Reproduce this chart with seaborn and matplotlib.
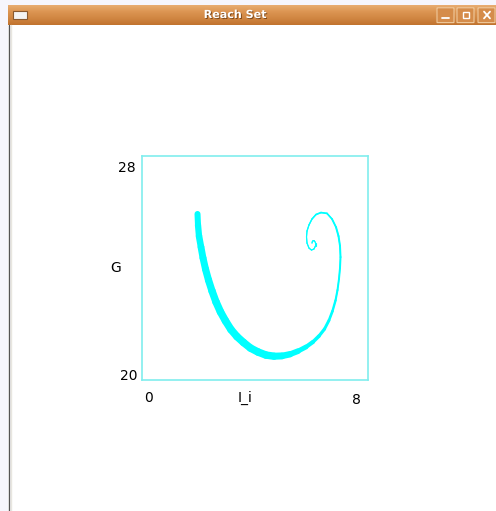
import numpy as np
import matplotlib
matplotlib.use("Agg")
import matplotlib.pyplot as plt
import matplotlib.patheffects as pe
from matplotlib.collections import LineCollection
from matplotlib.patches import Rectangle, FancyBboxPatch
from matplotlib.lines import Line2D
import pandas as pd
import seaborn as sns

# Reach set trajectory (centre line) in the (I_i, G) plane
li = [1.965, 1.982, 2.018, 2.088, 2.159, 2.248, 2.354, 2.478, 2.619, 2.779,
      2.956, 3.150, 3.363, 3.593, 3.841, 4.106, 4.389, 4.673, 4.956, 5.239,
      5.522, 5.805, 6.053, 6.265, 6.460, 6.619, 6.743, 6.850, 6.920, 6.973,
      7.009, 7.027, 7.009, 6.956, 6.867, 6.726, 6.549, 6.336, 6.159, 6.018,
      5.912, 5.841, 5.823, 5.841, 5.912, 6.000, 6.088, 6.142, 6.142, 6.088,
      6.035, 6.018]
g = [25.93, 25.54, 25.14, 24.75, 24.36, 23.96, 23.57, 23.18, 22.79, 22.43,
     22.11, 21.80, 21.55, 21.34, 21.14, 21.00, 20.89, 20.85, 20.86, 20.92,
     21.03, 21.18, 21.36, 21.57, 21.82, 22.13, 22.46, 22.84, 23.21, 23.61,
     24.00, 24.39, 24.79, 25.14, 25.46, 25.75, 25.95, 25.98, 25.91, 25.75,
     25.54, 25.32, 25.11, 24.89, 24.71, 24.64, 24.68, 24.79, 24.91, 24.98,
     24.96, 24.89]
# Thickness of the reach set along the trajectory (G units)
spread = [0.21, 0.22, 0.23, 0.24, 0.25, 0.25, 0.26, 0.26, 0.27, 0.27,
          0.27, 0.27, 0.27, 0.27, 0.27, 0.27, 0.27, 0.26, 0.24, 0.22,
          0.19, 0.16, 0.14, 0.12, 0.11, 0.10, 0.09, 0.08, 0.07, 0.07,
          0.07, 0.07, 0.07, 0.07, 0.07, 0.06, 0.06, 0.06, 0.06, 0.05,
          0.05, 0.04, 0.04, 0.04, 0.04, 0.04, 0.04, 0.04, 0.04, 0.04,
          0.04, 0.04]
x_range = [0, 8]
y_range = [20, 28]
x_labels = ["0", "8"]
y_labels = ["20", "28"]

sns.set_theme(style="white")
plt.rcParams["font.family"] = ["DejaVu Sans"]

W, H = 496, 511
fig = plt.figure(figsize=(W / 100, H / 100), dpi=100)
fig.patch.set_facecolor("white")

# ---- window frame ----
fig.add_artist(Rectangle((0, 0), 8 / W, 1, transform=fig.transFigure,
                         facecolor="#f6f6fd", edgecolor="none", zorder=0))
fig.add_artist(Rectangle((0, 1 - 5 / H), 1, 5 / H, transform=fig.transFigure,
                         facecolor="#f6f6fd", edgecolor="none", zorder=0))
fig.add_artist(Line2D([8.5 / W, 8.5 / W], [0, 1 - 25 / H], transform=fig.transFigure,
                      color="#555555", lw=1.0))
fig.add_artist(Line2D([10.5 / W, 10.5 / W], [0, 1 - 25 / H], transform=fig.transFigure,
                      color="#e8e6e0", lw=1.0))

tb = fig.add_axes([8 / W, 1 - 25 / H, (W - 8) / W, 20 / H])
grad = np.linspace(0, 1, 64).reshape(-1, 1)
cmap = matplotlib.colors.LinearSegmentedColormap.from_list(
    "bar", ["#e8ad72", "#dc9552", "#d08642", "#c1732e"])
tb.imshow(grad, aspect="auto", cmap=cmap, extent=[0, 1, 0, 1], origin="upper")
tb.set_xlim(0, 1)
tb.set_ylim(0, 1)
tb.axis("off")
tb.text((235 - 8) / 488, 0.5, "Reach Set", ha="center", va="center", color="white",
        fontsize=8, fontweight="bold",
        path_effects=[pe.withSimplePatchShadow(offset=(0.7, -0.7),
                                               shadow_rgbFace="#6a3a10", alpha=0.8)])
tb.add_patch(Rectangle((5 / 488, 0.3), 14 / 488, 0.42, facecolor="#f4f4f4",
                       edgecolor="#8a5a30", lw=0.8))
for bx in (429, 449, 470):
    tb.add_patch(FancyBboxPatch((bx / 488, 0.12), 17 / 488, 0.74,
                                boxstyle="round,pad=0,rounding_size=0.004",
                                facecolor="#d58c4a", edgecolor="#efc99c", lw=0.8))
tb.plot([434 / 488, 441 / 488], [0.33, 0.33], color="white", lw=1.3)
tb.add_patch(Rectangle((455 / 488, 0.33), 6 / 488, 0.34, facecolor="none",
                       edgecolor="white", lw=1.0))
tb.plot([476 / 488, 482 / 488], [0.33, 0.67], color="white", lw=1.3)
tb.plot([476 / 488, 482 / 488], [0.67, 0.33], color="white", lw=1.3)

# ---- plot ----
ax = fig.add_axes([142 / W, 1 - 380 / H, 226 / W, 224 / H])
ax.set_facecolor("white")
df = pd.DataFrame({"I_i": li, "G": g})
sns.lineplot(data=df, x="I_i", y="G", sort=False, estimator=None,
             color="#00ffff", lw=0.8, ax=ax)

pts = np.column_stack([li, g])
segs = np.stack([pts[:-1], pts[1:]], axis=1)
ax_h_pt = ax.get_position().height * fig.get_figheight() * 72
pt_per_unit = ax_h_pt / (y_range[1] - y_range[0])
sp = np.asarray(spread)
widths = (sp[:-1] + sp[1:]) / 2 * pt_per_unit
ax.add_collection(LineCollection(segs, linewidths=widths, colors="#00ffff",
                                 capstyle="round", joinstyle="round"))

ax.set_xlim(*x_range)
ax.set_ylim(*y_range)
ax.set_xticks([])
ax.set_yticks([])
ax.set_xlabel("")
ax.set_ylabel("")
for s in ax.spines.values():
    s.set_visible(True)
    s.set_color("#80eeee")
    s.set_linewidth(1.2)

fs = 10
lab = dict(fontsize=fs, color="black", textcoords="offset points",
           annotation_clip=False)
ax.annotate(y_labels[1], xy=(x_range[0], y_range[1]), xytext=(-4.3, -8.6),
            ha="right", va="center", **lab)
ax.annotate(y_labels[0], xy=(x_range[0], y_range[0]), xytext=(-2.9, 2.9),
            ha="right", va="center", **lab)
ax.annotate(x_labels[0], xy=(x_range[0], y_range[0]), xytext=(4.7, -13.0),
            ha="center", va="center", **lab)
ax.annotate(x_labels[1], xy=(x_range[1], y_range[0]), xytext=(-8.3, -14.4),
            ha="center", va="center", **lab)
ax.annotate("I_i", xy=(0.5, 0), xycoords="axes fraction", xytext=(-7.2, -13.0),
            ha="center", va="center", **lab)
ax.annotate("G", xy=(0, 0.5), xycoords="axes fraction", xytext=(-18.7, 0),
            ha="center", va="center", **lab)

fig.savefig("out.png", dpi=100)
